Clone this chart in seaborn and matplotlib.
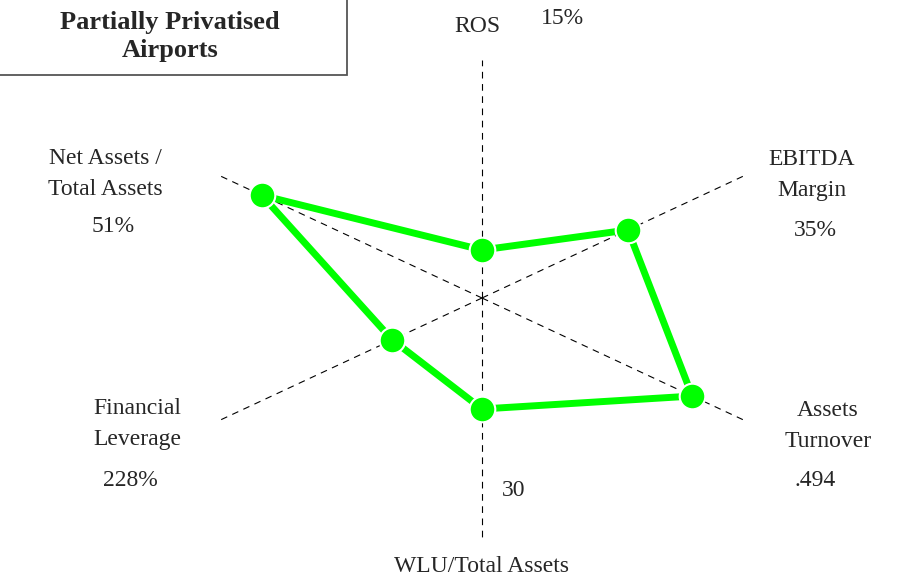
import numpy as np
import pandas as pd
import matplotlib
matplotlib.use("Agg")
import matplotlib.pyplot as plt
from matplotlib.patches import Rectangle
import seaborn as sns

# radar axes, clockwise from the top
axis_names = ["ROS", "EBITDA\nMargin", "Assets\nTurnover", "WLU/Total Assets",
              "Financial\nLeverage", "Net Assets /\nTotal Assets"]
axis_values = ["15%", "35%", ".494", "30", "228%", "51%"]
axis_angle = [90, 25, -25, -90, 205, 155]          # degrees
axis_len = [238, 293, 293, 239, 293, 293]
# position of the airport score along each axis
scores = [48, 161, 232, 111, 99, 243]

sns.set_style("white")
plt.rcParams['font.family'] = ['Liberation Serif', 'DejaVu Serif']

fig = plt.figure(figsize=(9.01, 5.80), dpi=100)
ax = fig.add_axes([0, 0, 1, 1])
ax.set_xlim(-482, 419)
ax.set_ylim(-282, 298)
ax.axis("off")

rad = np.deg2rad(axis_angle)
for a, L in zip(rad, axis_len):
    ax.plot([0, L * np.cos(a)], [0, L * np.sin(a)], color="black", lw=0.8,
            dashes=(6, 5), zorder=1)

df = pd.DataFrame({"x": np.array(scores) * np.cos(rad),
                   "y": np.array(scores) * np.sin(rad)})
closed = pd.concat([df, df.iloc[:1]], ignore_index=True)
sns.lineplot(data=closed, x="x", y="y", sort=False, estimator=None,
             color="#00ff00", lw=5, ax=ax, zorder=2)
sns.scatterplot(data=df, x="x", y="y", color="#00ff00", s=340,
                edgecolor="white", linewidth=1.5, ax=ax, zorder=3)
ax.set_xlabel("")
ax.set_ylabel("")

fs = 17
ls = 1.62
# axis labels
ax.text(-5, 272, "ROS", ha="center", va="center", fontsize=fs)
ax.text(80, 280, "15%", ha="center", va="center", fontsize=fs)
ax.text(330, 123, axis_names[1], ha="center", va="center", fontsize=fs, linespacing=ls)
ax.text(333, 68, axis_values[1], ha="center", va="center", fontsize=fs)
ax.text(346, -128, axis_names[2], ha="center", va="center", fontsize=fs, linespacing=ls)
ax.text(333, -182, axis_values[2], ha="center", va="center", fontsize=fs)
ax.text(20, -193, axis_values[3], ha="left", va="center", fontsize=fs)
ax.text(0, -269, axis_names[3], ha="center", va="center", fontsize=fs)
ax.text(-345, -126, axis_names[4], ha="center", va="center", fontsize=fs, linespacing=ls)
ax.text(-352, -182, axis_values[4], ha="center", va="center", fontsize=fs)
ax.text(-377, 124, axis_names[5], ha="center", va="center", fontsize=fs, linespacing=ls)
ax.text(-369, 71, axis_values[5], ha="center", va="center", fontsize=fs)

# title box in the top-left corner, running off the edge
ax.add_patch(Rectangle((-495, 223), 360, 90, fc="white", ec="#555555", lw=1.3,
                       zorder=4, clip_on=False))
ax.text(-312, 276, "Partially Privatised", ha="center", va="center",
        fontsize=19, fontweight="bold", zorder=5)
ax.text(-312, 247, "Airports", ha="center", va="center",
        fontsize=19, fontweight="bold", zorder=5)

fig.savefig("out.png", dpi=100)
